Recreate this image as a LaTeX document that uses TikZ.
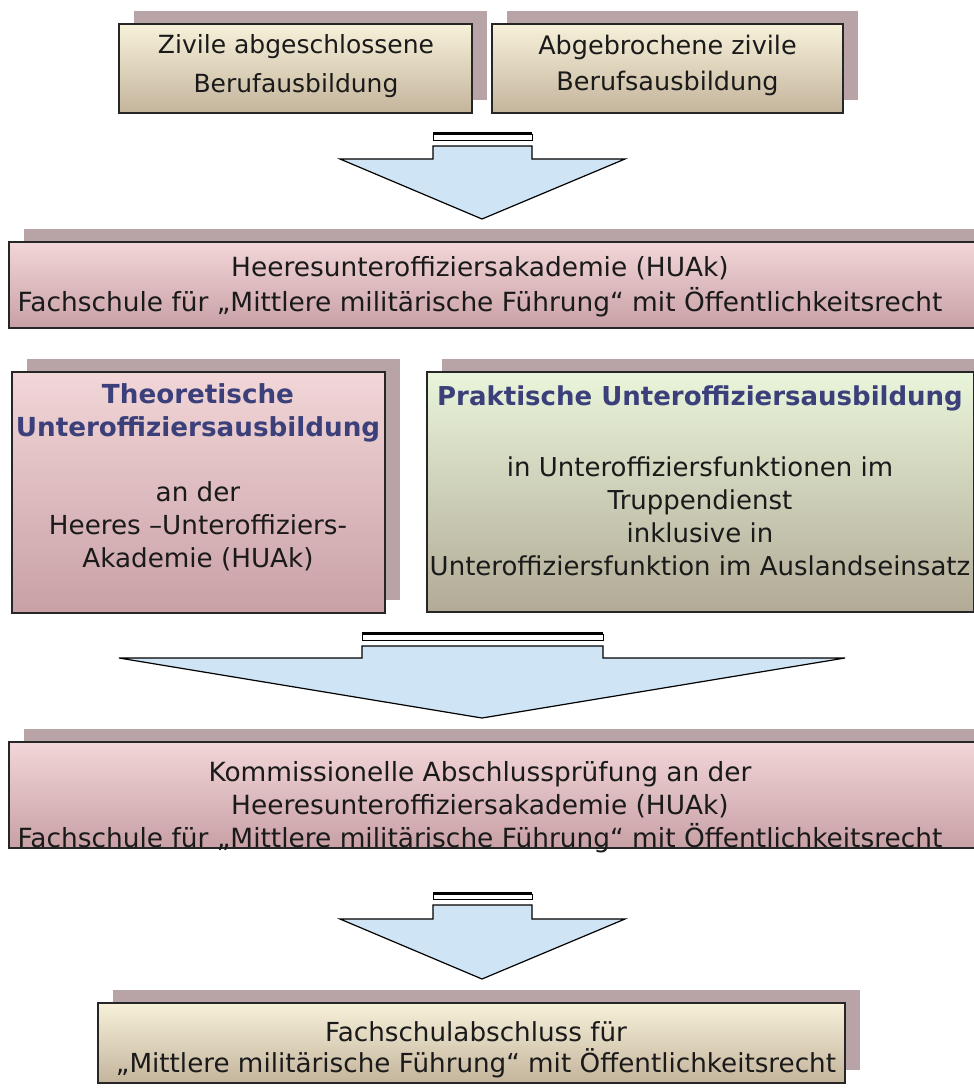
\documentclass[tikz,border=0pt]{standalone}
\usepackage{fontspec}
\setmainfont{DejaVu Sans}
\usetikzlibrary{shadows}
\definecolor{creamtop}{HTML}{F7F1DA}
\definecolor{creambot}{HTML}{C4B49C}
\definecolor{pinktop}{HTML}{F2D6D8}
\definecolor{pinkbot}{HTML}{C8A0A5}
\definecolor{greentop}{HTML}{E9F5DA}
\definecolor{greenbot}{HTML}{B2AA96}
\definecolor{shadowc}{HTML}{B8A3A7}
\definecolor{arrowc}{HTML}{CFE5F6}
\definecolor{headc}{HTML}{3B3F7A}
\definecolor{txtc}{HTML}{1A1A1A}
\tikzset{
  box/.style={draw=black!85, line width=1.4pt, inner sep=0pt, shade,
    drop shadow={shadow xshift=15pt, shadow yshift=13pt, fill=shadowc, opacity=1}},
  cream/.style={box, top color=creamtop, bottom color=creambot},
  pink/.style={box, top color=pinktop, bottom color=pinkbot},
  green/.style={box, top color=greentop, bottom color=greenbot},
  txt/.style 2 args={align=center, inner sep=0pt, text=txtc, font=\fontsize{#1}{#2}\selectfont},
  blockarrow/.style={fill=arrowc, draw=black, line width=1.2pt, line join=miter}
}
\begin{document}
\begin{tikzpicture}[x=1pt,y=-1pt]
\clip (0,0) rectangle (974,1088);
\fill[white] (0,0) rectangle (974,1088);

% top boxes
\node[cream, minimum width=353pt, minimum height=89pt] (zivile) at (295.5,68.5) {};
\node[txt={25}{39pt}] (zivileT) at (296,66) {Zivile abgeschlossene\\Berufausbildung};
\node[cream, minimum width=351pt, minimum height=89pt] (abgebr) at (667.5,68.5) {};
\node[txt={25.5}{36pt}] (abgebrT) at (abgebr.center) [yshift=3pt] {Abgebrochene zivile\\Berufsausbildung};

% arrow 1
\draw[blockarrow] (433,146) -- (532,146) -- (532,159) -- (625,159) -- (482,219) coordinate (tip1)
  -- (340,159) -- (433,159) -- cycle;
\draw[fill=white, line width=1pt] (433,134) rectangle (532,140);
\draw[line width=2pt] (433,133) -- (532,133);

% HUAk box
\node[pink, minimum width=966pt, minimum height=86pt] (huak) at (492,285) {};
\node[txt={26.4}{35pt}] (huakT) at (480,287) {Heeresunteroffiziersakademie (HUAk)\\Fachschule für „Mittlere militärische Führung“ mit Öffentlichkeitsrecht};

% theory box
\node[pink, minimum width=373pt, minimum height=241pt] (theo) at (198.5,492.5) {};
\node[txt={26.2}{33pt}] (theoT) at (198,477) {{\bfseries\color{headc}Theoretische}\\{\bfseries\color{headc}Unteroffiziersausbildung}\\[32pt]an der\\Heeres –Unteroffiziers-\\Akademie (HUAk)};

% practice box
\node[green, minimum width=547pt, minimum height=240pt] (prax) at (700.5,492) {};
\node[txt={26}{33pt}] (praxT) at (700,481) {{\bfseries\color{headc}Praktische Unteroffiziersausbildung}\\[38pt]in Unteroffiziersfunktionen im\\Truppendienst\\inklusive in\\Unteroffiziersfunktion im Auslandseinsatz};

% arrow 2
\draw[blockarrow] (362,646) -- (603,646) -- (603,658) -- (845,658) -- (482,718) coordinate (tip2)
  -- (119,658) -- (362,658) -- cycle;
\draw[fill=white, line width=1pt] (362,634) rectangle (603,640);
\draw[line width=2pt] (362,633) -- (603,633);

% exam box
\node[pink, minimum width=966pt, minimum height=106pt] (exam) at (492,795) {};
\node[txt={26.4}{33pt}] (examT) at (480,807) {Kommissionelle Abschlussprüfung an der\\Heeresunteroffiziersakademie (HUAk)\\Fachschule für „Mittlere militärische Führung“ mit Öffentlichkeitsrecht};

% arrow 3
\draw[blockarrow] (433,905) -- (532,905) -- (532,919) -- (625,919) -- (482,979) coordinate (tip3)
  -- (340,919) -- (433,919) -- cycle;
\draw[fill=white, line width=1pt] (433,894) rectangle (532,899);
\draw[line width=2pt] (433,893) -- (532,893);

% final box
\node[cream, minimum width=747pt, minimum height=80pt] (final) at (471.5,1043) {};
\node[txt={26.2}{31pt}] (finalT) at (476,1050) {Fachschulabschluss für\\„Mittlere militärische Führung“ mit Öffentlichkeitsrecht};
\end{tikzpicture}
\end{document}
